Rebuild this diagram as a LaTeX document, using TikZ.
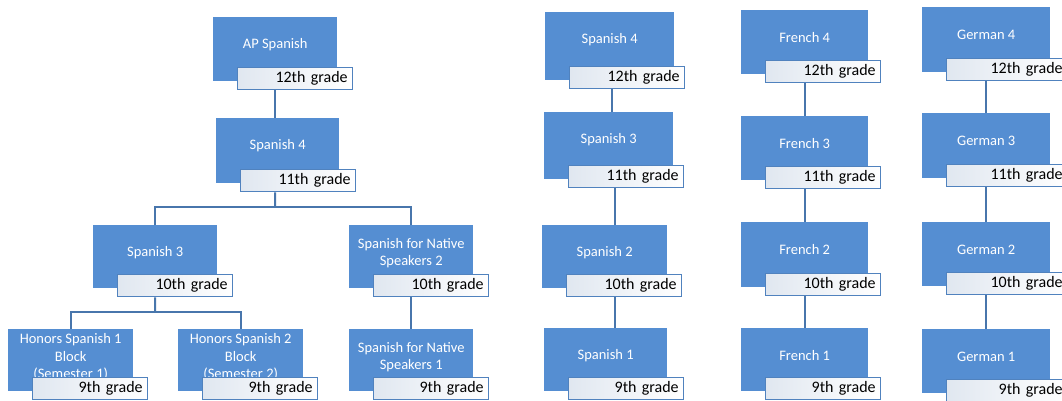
\documentclass[tikz,border=0pt]{standalone}
\usepackage{fontspec}
\setmainfont{Carlito}
\definecolor{boxblue}{RGB}{85,142,210}
\definecolor{lineblue}{RGB}{72,118,172}
\definecolor{labedge}{RGB}{80,130,190}
\definecolor{labfill}{RGB}{224,231,240}
\tikzset{
  cbox/.style={fill=boxblue, draw=none, inner sep=0pt},
  ctext/.style={text=white, font=\fontsize{14.5}{17.5}\selectfont, align=center, inner sep=0pt},
  gbox/.style={draw=labedge, line width=1.3pt, left color=labfill, right color=white,
    minimum height=22pt, text width=105pt, align=right, inner xsep=5pt, inner ysep=0pt,
    font=\fontsize{16}{18}\selectfont, text=black},
  conn/.style={draw=lineblue, line width=2pt}
}
\newcommand\course[7]{%
  \node[cbox, anchor=north west, minimum width={(#4)-(#2)}, minimum height={(#5)-(#3)}] (#1) at (#2,#3) {};
  \node[ctext] (#1T) at ([yshift=-28pt]#1.north) {#6};
  \node[gbox, anchor=south west] (#1L) at ([xshift=24pt,yshift=-9pt]#1.south west) {#7};
}
\begin{document}
\begin{tikzpicture}[x=1pt,y=-1pt]
\clip (0,0) rectangle (1062,400);
\fill[white] (0,0) rectangle (1062,400);
% left tree
\course{apS}{213}{17}{337}{81}{AP Spanish}{12th grade}
\course{spf}{216}{118}{339}{183}{Spanish 4}{11th grade}
\course{spt}{93}{225}{217}{288}{Spanish 3}{10th grade}
\course{nat2}{349}{225}{473}{288}{Spanish for Native\\Speakers 2}{10th grade}
\course{hon1}{8}{329}{133}{391}{Honors Spanish 1\\Block\\(Semester 1)}{9th grade}
\course{hon2}{178}{329}{303}{391}{Honors Spanish 2\\Block\\(Semester 2)}{9th grade}
\course{nat1}{349}{329}{473}{391}{Spanish for Native\\Speakers 1}{9th grade}
% right columns
\course{rs4}{545}{12}{674}{80}{Spanish 4}{12th grade}
\course{rs3}{544}{112}{673}{179}{Spanish 3}{11th grade}
\course{rs2}{542}{225}{667}{288}{Spanish 2}{10th grade}
\course{rs1}{544}{328}{667}{391}{Spanish 1}{9th grade}
\course{fr4}{741}{10}{868}{74}{French 4}{12th grade}
\course{fr3}{741}{116}{868}{180}{French 3}{11th grade}
\course{fr2}{741}{222}{868}{287}{French 2}{10th grade}
\course{fr1}{741}{328}{868}{391}{French 1}{9th grade}
\tikzset{gbox/.append style={text width=111pt}}
\course{ge4}{922}{7}{1050}{72}{German 4}{12th grade}
\course{ge3}{922}{113}{1050}{178}{German 3}{11th grade}
\course{ge2}{922}{222}{1050}{286}{German 2}{10th grade}
\course{ge1}{922}{329}{1050}{393}{German 1}{9th grade}
% connectors, left tree
\coordinate (bus1) at (275,207);
\coordinate (bus2) at (155,312);
\draw[conn] (apS.center |- apSL.south) -- (apS.center |- spf.north);
\draw[conn] (apS.center |- spfL.south) -- (bus1);
\draw[conn] (spt.north) |- (bus1) -| (nat2.north);
\draw[conn] (spt.center |- sptL.south) -- (bus2);
\draw[conn] (hon1.north) |- (bus2) -| (hon2.north);
\draw[conn] (nat2.center |- nat2L.south) -- (nat1.north);
% connectors, right columns
\coordinate (xa) at (612,0);
\coordinate (xb) at (615,0);
\draw[conn] (rs4L.south -| xa) -- (rs3.north -| xa);
\draw[conn] (rs3L.south -| xb) -- (rs2.north -| xb);
\draw[conn] (rs2L.south -| xb) -- (rs1.north -| xb);
\draw[conn] (fr4.center |- fr4L.south) -- (fr3.north);
\draw[conn] (fr3.center |- fr3L.south) -- (fr2.north);
\draw[conn] (fr2.center |- fr2L.south) -- (fr1.north);
\draw[conn] (ge4.center |- ge4L.south) -- (ge3.north);
\draw[conn] (ge3.center |- ge3L.south) -- (ge2.north);
\draw[conn] (ge2.center |- ge2L.south) -- (ge1.north);
\end{tikzpicture}
\end{document}
